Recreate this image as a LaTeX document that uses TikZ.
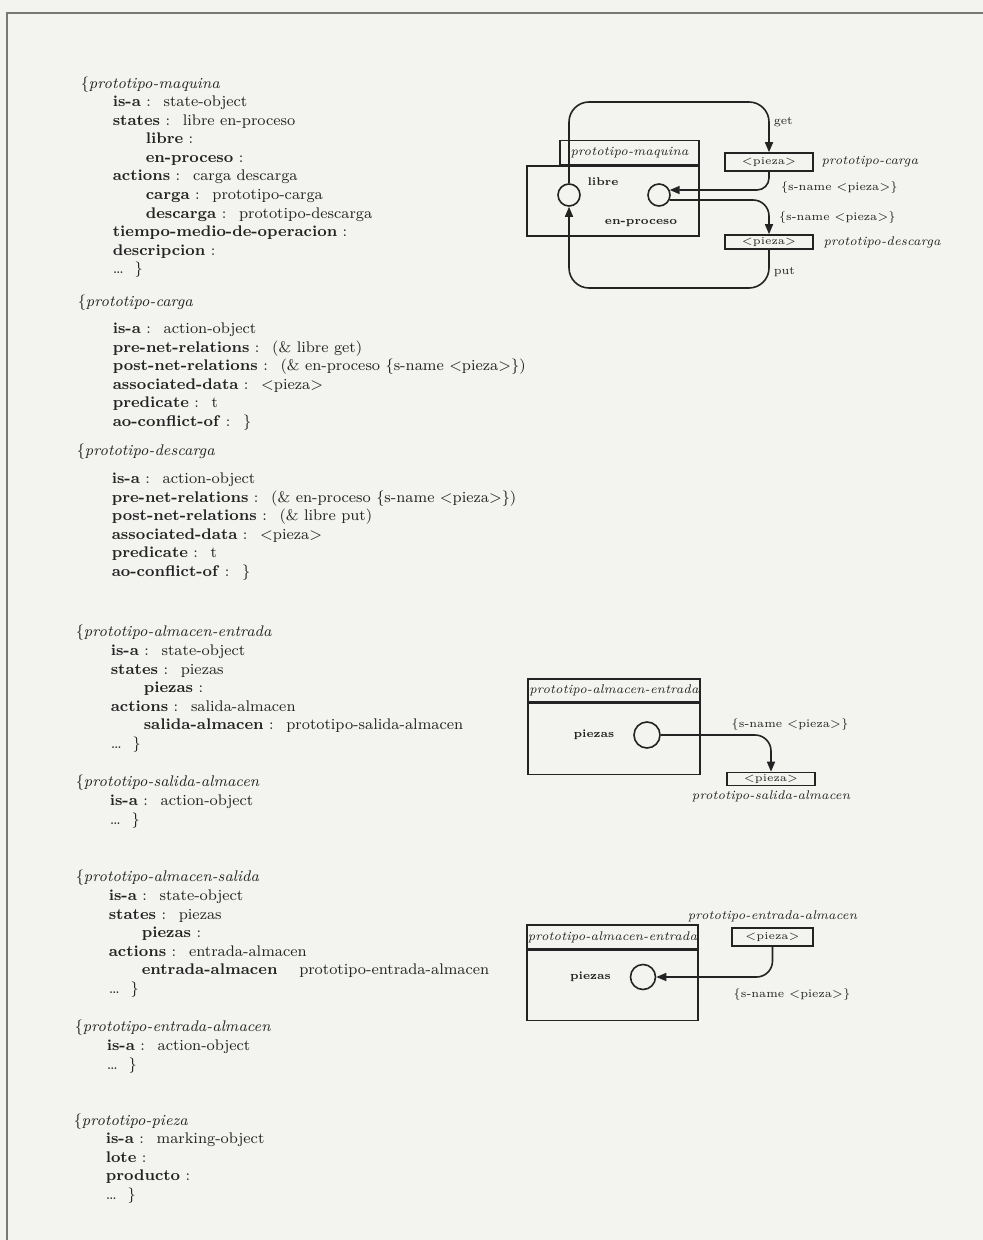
\documentclass[tikz,border=0pt]{standalone}
\usepackage{tikz}
\usetikzlibrary{positioning,arrows.meta}
\definecolor{paper}{RGB}{243,243,240}
\definecolor{ink}{RGB}{35,35,35}
\definecolor{rule}{RGB}{120,120,120}
\tikzstyle{place} = [draw, circle, inner sep=0pt, minimum size=11pt]
\tikzstyle{trans} = [draw, rectangle, inner sep=0pt, minimum width=44pt, font=\fontsize{5.3}{6}\selectfont]
\tikzstyle{box} = [draw, rectangle, inner sep=0pt, minimum width=86pt]
\tikzstyle{arc} = [-{Triangle[length=5pt,width=4pt]}, rounded corners=10pt]
\tikzstyle{lbl} = [inner sep=0pt, font=\fontsize{5.8}{6.5}\selectfont]
\tikzstyle{stlbl} = [inner sep=0pt, font=\fontsize{5.6}{6.5}\bfseries]
\tikzstyle{proto} = [inner sep=0pt, font=\fontsize{6.3}{7}\itshape]
\tikzstyle{head} = [anchor=base west, inner sep=0pt, font=\fontsize{7.7}{9.3}\selectfont]
\tikzstyle{slot} = [anchor=base west, inner sep=0pt, font=\fontsize{7.7}{9.3}\selectfont]
\newcommand{\kw}[1]{\textbf{#1}}
\newcommand{\ind}{\hspace*{16.5pt}}

\begin{document}
\begin{tikzpicture}[x=0.5pt, y=-0.5pt, ink, line width=0.8pt]
    \fill[paper] (0,0) rectangle (983,1240);
    \useasboundingbox (0,0) rectangle (983,1240);
    \draw[rule] (7,1240) -- (7,13) -- (983,13);

    % frames on the left
    \node[head] (maqh) at (80,88.5) {\{\textit{prototipo-maquina}};
    \node[slot] (maqb) at (112,106.5) {\begin{tabular}[t]{@{}l@{}}
        \kw{is-a} : \ state-object\\
        \kw{states} : \ libre en-proceso\\
        \ind\kw{libre} :\\
        \ind\kw{en-proceso} :\\
        \kw{actions} : \ carga descarga\\
        \ind\kw{carga} : \ prototipo-carga\\
        \ind\kw{descarga} : \ prototipo-descarga\\
        \kw{tiempo-medio-de-operacion} :\\
        \kw{descripcion} :\\
        \dots\ \ \}
    \end{tabular}};

    \node[head] (cargah) at (77,306.5) {\{\textit{prototipo-carga}};
    \node[slot] (cargab) at (112,333.5) {\begin{tabular}[t]{@{}l@{}}
        \kw{is-a} : \ action-object\\
        \kw{pre-net-relations} : \ (\& libre get)\\
        \kw{post-net-relations} : \ (\& en-proceso \{s-name <pieza>\})\\
        \kw{associated-data} : \ <pieza>\\
        \kw{predicate} : \ t\\
        \kw{ao-conflict-of} : \ \}
    \end{tabular}};

    \node[head] (desch) at (76,455.5) {\{\textit{prototipo-descarga}};
    \node[slot] (descb) at (111,483.5) {\begin{tabular}[t]{@{}l@{}}
        \kw{is-a} : \ action-object\\
        \kw{pre-net-relations} : \ (\& en-proceso \{s-name <pieza>\})\\
        \kw{post-net-relations} : \ (\& libre put)\\
        \kw{associated-data} : \ <pieza>\\
        \kw{predicate} : \ t\\
        \kw{ao-conflict-of} : \ \}
    \end{tabular}};

    \node[head] (aeh) at (75,636.5) {\{\textit{prototipo-almacen-entrada}};
    \node[slot] (aeb) at (110,655.5) {\begin{tabular}[t]{@{}l@{}}
        \kw{is-a} : \ state-object\\
        \kw{states} : \ piezas\\
        \ind\kw{piezas} :\\
        \kw{actions} : \ salida-almacen\\
        \ind\kw{salida-almacen} : \ prototipo-salida-almacen\\
        \dots\ \ \}
    \end{tabular}};

    \node[head] (salh) at (75,786.5) {\{\textit{prototipo-salida-almacen}};
    \node[slot] (salb) at (109,805.5) {\begin{tabular}[t]{@{}l@{}}
        \kw{is-a} : \ action-object\\
        \dots\ \ \}
    \end{tabular}};

    \node[head] (ash) at (75,881.5) {\{\textit{prototipo-almacen-salida}};
    \node[slot] (asb) at (108,900.5) {\begin{tabular}[t]{@{}l@{}}
        \kw{is-a} : \ state-object\\
        \kw{states} : \ piezas\\
        \ind\kw{piezas} :\\
        \kw{actions} : \ entrada-almacen\\
        \ind\kw{entrada-almacen} \ \ \ prototipo-entrada-almacen\\
        \dots\ \ \}
    \end{tabular}};

    \node[head] (enth) at (74,1031.5) {\{\textit{prototipo-entrada-almacen}};
    \node[slot] (entb) at (106,1050.5) {\begin{tabular}[t]{@{}l@{}}
        \kw{is-a} : \ action-object\\
        \dots\ \ \}
    \end{tabular}};

    \node[head] (pzh) at (73,1125.5) {\{\textit{prototipo-pieza}};
    \node[slot] (pzb) at (105,1143.5) {\begin{tabular}[t]{@{}l@{}}
        \kw{is-a} : \ marking-object\\
        \kw{lote} :\\
        \kw{producto} :\\
        \dots\ \ \}
    \end{tabular}};

    % maquina net
    \node[box, minimum height=35pt] (maq) at (613,201) {};
    \node[box, minimum width=69.5pt, minimum height=12pt, above left=0pt and 0pt of maq.north east, font=\fontsize{6.3}{7}\itshape] (maqt) {prototipo-maquina};
    \node[place] (libre) at (569,195) {};
    \node[place] (enproc) at (659,195) {};
    \node[stlbl] (librel) at (603,182) {libre};
    \node[stlbl] (enprocl) at (641,223) {en-proceso};
    \node[trans, minimum height=9pt] (carga) at (769,162) {<pieza>};
    \node[trans, minimum height=7pt] (desc) at (769,242) {<pieza>};
    \node[proto, right=3.5pt of carga] (cargal) {prototipo-carga};
    \node[proto, right=4.5pt of desc] (descl) {prototipo-descarga};
    \coordinate (gettop) at (700,102);
    \coordinate (putbot) at (700,288);
    \draw[arc] (libre.north) |- (gettop) -| (carga.north);
    \draw[arc, rounded corners=6pt] (carga.south) |- (enproc.25);
    \draw[arc, rounded corners=8pt] (enproc.-25) -| (desc.north);
    \draw[arc] (desc.south) |- (putbot) -| (libre.south);
    \node[lbl, anchor=west] (getl) at (773,122) {get};
    \node[lbl, anchor=west] (putl) at (773,272) {put};
    \node[lbl, anchor=west] (sn1) at (780,188) {\{s-name <pieza>\}};
    \node[lbl, anchor=west] (sn2) at (778,218) {\{s-name <pieza>\}};

    % almacen entrada net
    \node[box, minimum height=11.5pt, font=\fontsize{6.3}{7}\itshape] (aet) at (614,690.5) {prototipo-almacen-entrada};
    \node[box, minimum height=35.5pt, below=0pt of aet] (ae) {};
    \node[place, minimum size=13pt] (pz1) at (647,735) {};
    \node[stlbl, left=9pt of pz1] (pz1l) {piezas};
    \node[trans, minimum height=6.5pt] (sal) at (771,779) {<pieza>};
    \node[proto, below=2pt of sal] (sall) {prototipo-salida-almacen};
    \draw[arc, rounded corners=8pt] (pz1.east) -| (sal.north);
    \node[lbl] (sn3) at (790,725) {\{s-name <pieza>\}};

    % almacen salida net
    \node[box, minimum width=85.5pt, minimum height=12pt, font=\fontsize{6.3}{7}\itshape] (ast) at (612.5,937) {prototipo-almacen-entrada};
    \node[box, minimum width=85.5pt, minimum height=35pt, below=0pt of ast] (as) {};
    \node[place, minimum size=12.5pt] (pz2) at (643,977) {};
    \node[stlbl, left=9pt of pz2] (pz2l) {piezas};
    \node[trans, minimum width=40.5pt, minimum height=9pt] (ent) at (772.5,937) {<pieza>};
    \node[proto, above=2pt of ent] (entl) {prototipo-entrada-almacen};
    \draw[arc, rounded corners=8pt] (ent.south) |- (pz2.east);
    \node[lbl] (sn4) at (792,995) {\{s-name <pieza>\}};
\end{tikzpicture}
\end{document}
